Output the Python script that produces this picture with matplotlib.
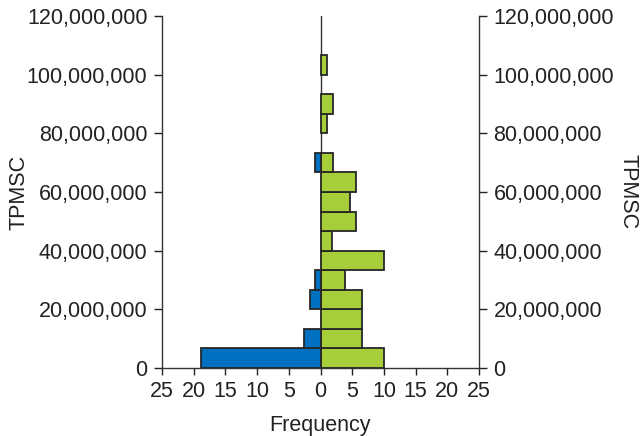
import numpy as np
import matplotlib
matplotlib.use("Agg")
import matplotlib.pyplot as plt
from matplotlib.ticker import FuncFormatter

plt.rcParams['font.family'] = ['Liberation Sans', 'DejaVu Sans']

# Histogram bins of TPMSC (18 bins from 0 to 120,000,000)
bin_start = 0
bin_end = 120_000_000
n_bins = 18
# Frequencies per bin (bottom to top)
green_freq = [10, 6.5, 6.5, 6.5, 3.8, 10, 1.8, 5.6, 4.6, 5.6, 2.0, 0, 1.0, 2.0, 0, 1.0, 0, 0]
blue_freq = [18.8, 2.6, 0, 1.7, 0.8, 0, 0, 0, 0, 0, 0.8, 0, 0, 0, 0, 0, 0, 0]

yticks = [0, 20_000_000, 40_000_000, 60_000_000, 80_000_000, 100_000_000, 120_000_000]
xticks = [-25, -20, -15, -10, -5, 0, 5, 10, 15, 20, 25]

edges = np.linspace(bin_start, bin_end, n_bins + 1)
bw = edges[1] - edges[0]
green = np.array(green_freq)
blue = np.array(blue_freq)

fig = plt.figure(figsize=(6.42, 4.36), dpi=100)
ax = fig.add_axes([162/642, 1 - 368/436, (479-162)/642, (368-16)/436])

edge_col = '#262626'
mg = green > 0
ax.barh(edges[:-1][mg], green[mg], height=bw, align='edge',
        color='#A6CE39', edgecolor=edge_col, linewidth=1.3, zorder=3)
mb = blue > 0
ax.barh(edges[:-1][mb], -blue[mb], height=bw, align='edge',
        color='#0070C0', edgecolor=edge_col, linewidth=1.3, zorder=3)

ax.axvline(0, color='#333333', lw=1.0, zorder=2)

ax.set_xlim(-25, 25)
ax.set_ylim(0, 120_000_000)
ax.set_xticks(xticks)
ax.set_xticklabels([str(abs(t)) for t in xticks])
ax.set_yticks(yticks)
fmt = FuncFormatter(lambda v, p: f"{int(v):,}")
ax.yaxis.set_major_formatter(fmt)

ax.spines['top'].set_visible(False)
for s in ['left', 'right', 'bottom']:
    ax.spines[s].set_color('#333333')
    ax.spines[s].set_linewidth(1.0)

ax.tick_params(axis='both', labelsize=15.5, colors='#222222', width=1.0, direction='out')
ax.tick_params(axis='x', length=5, pad=4)
ax.tick_params(axis='y', length=5.5, pad=5, left=True, right=True, labelleft=True, labelright=True)

fig.text(320/642, 1 - 425/436, 'Frequency', fontsize=15.5, color='#222222',
         ha='center', va='center')
fig.text(19/642, 1 - 192/436, 'TPMSC', rotation=90, fontsize=15.5, color='#222222',
         ha='center', va='center')
fig.text(628/642, 1 - 192/436, 'TPMSC', rotation=270, fontsize=15.5, color='#222222',
         ha='center', va='center')

fig.savefig('out.png', dpi=100)
